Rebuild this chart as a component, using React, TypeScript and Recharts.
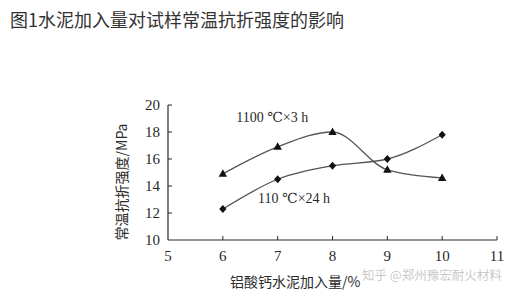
import { CartesianGrid, Line, LineChart, XAxis, YAxis, ReferenceDot } from "recharts";

const dosage = [6, 7, 8, 9, 10];
const fired1100 = [14.9, 16.9, 18.0, 15.2, 14.6];
const dried110 = [12.3, 14.5, 15.5, 16.0, 17.8];
const xTicks = [5, 6, 7, 8, 9, 10, 11];
const yTicks = [10, 12, 14, 16, 18, 20];

const data = dosage.map((d, i) => ({
  dosage: d,
  fired: fired1100[i],
  dried: dried110[i],
}));

const serif = "'Liberation Serif', 'DejaVu Serif', serif";
const cjk = "'Noto Sans CJK SC', sans-serif";
const ink = "#2a2a2a";

const XTick = (props: any) => {
  const { x, y, payload } = props;
  return (
    <g>
      {payload.value !== 5 && (
        <line x1={x} x2={x} y1={y} y2={y - 4} stroke={ink} strokeWidth={1} />
      )}
      <text x={x} y={y + 21} textAnchor="middle" fontFamily={serif} fontSize={15} fill={ink}>
        {payload.value}
      </text>
    </g>
  );
};

const YTick = (props: any) => {
  const { x, y, payload } = props;
  return (
    <g>
      {payload.value !== 10 && (
        <line x1={x} x2={x + 4} y1={y} y2={y} stroke={ink} strokeWidth={1} />
      )}
      <text x={x - 8} y={y + 5} textAnchor="end" fontFamily={serif} fontSize={15} fill={ink}>
        {payload.value}
      </text>
    </g>
  );
};

const Triangle = (props: any) => {
  const { cx, cy } = props;
  return <path d={`M${cx},${cy - 4.5} L${cx + 4.2},${cy + 3} L${cx - 4.2},${cy + 3} Z`} fill="#111" />;
};

const Diamond = (props: any) => {
  const { cx, cy } = props;
  return <path d={`M${cx},${cy - 4} L${cx + 3.6},${cy} L${cx},${cy + 4} L${cx - 3.6},${cy} Z`} fill="#111" />;
};

export default function App() {
  return (
    <div style={{ position: "absolute", left: 0, top: 0, width: 519, height: 299, background: "#fff" }}>
      <div
        style={{
          position: "absolute",
          left: 10,
          top: 6,
          fontFamily: cjk,
          fontSize: 18,
          color: "#333",
          whiteSpace: "nowrap",
        }}
      >
        图1水泥加入量对试样常温抗折强度的影响
      </div>
      <LineChart
        width={519}
        height={299}
        data={data}
        margin={{ top: 105, right: 22, bottom: 29, left: 128 }}
        style={{ position: "absolute", left: 0, top: 0 }}
      >
        <CartesianGrid stroke="none" />
        <XAxis
          dataKey="dosage"
          type="number"
          domain={[5, 11]}
          ticks={xTicks}
          tickSize={0}
          tickMargin={0}
          height={30}
          stroke={ink}
          axisLine={{ stroke: ink, strokeWidth: 1.2 }}
          tick={<XTick />}
          interval={0}
        />
        <YAxis
          type="number"
          domain={[10, 20]}
          ticks={yTicks}
          tickSize={0}
          tickMargin={0}
          width={40}
          axisLine={{ stroke: ink, strokeWidth: 1.2 }}
          tick={<YTick />}
          interval={0}
        />
        <Line
          type="monotone"
          dataKey="fired"
          stroke="#555"
          strokeWidth={1.3}
          dot={<Triangle />}
          activeDot={false}
          isAnimationActive={false}
        />
        <Line
          type="monotone"
          dataKey="dried"
          stroke="#555"
          strokeWidth={1.3}
          dot={<Diamond />}
          activeDot={false}
          isAnimationActive={false}
        />
        <ReferenceDot
          x={6.9}
          y={19.1}
          r={0}
          label={{ value: "1100 ℃×3 h", fontFamily: serif, fontSize: 14, fill: ink, position: "center" }}
        />
        <ReferenceDot
          x={7.3}
          y={13.1}
          r={0}
          label={{ value: "110 ℃×24 h", fontFamily: serif, fontSize: 14, fill: ink, position: "center" }}
        />
      </LineChart>
      <div
        style={{
          position: "absolute",
          left: 121,
          top: 182,
          transform: "translate(-50%, -50%) rotate(-90deg)",
          fontFamily: cjk,
          fontSize: 14,
          color: ink,
          whiteSpace: "nowrap",
          lineHeight: "16px",
        }}
      >
        常温抗折强度/MPa
      </div>
      <div
        style={{
          position: "absolute",
          left: 230,
          top: 271,
          fontFamily: cjk,
          fontSize: 14,
          color: ink,
          whiteSpace: "nowrap",
          lineHeight: "20px",
        }}
      >
        铝酸钙水泥加入量/%
      </div>
      <div
        style={{
          position: "absolute",
          left: 362,
          top: 267,
          fontFamily: cjk,
          fontSize: 12.5,
          color: "rgba(190,190,190,0.85)",
          whiteSpace: "nowrap",
          lineHeight: "16px",
        }}
      >
        知乎 @郑州豫宏耐火材料
      </div>
    </div>
  );
}
